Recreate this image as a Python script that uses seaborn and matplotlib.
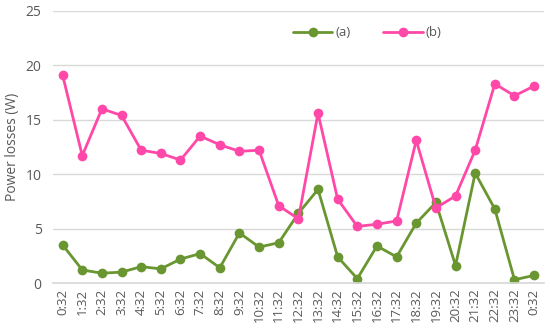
import numpy as np
import pandas as pd
import matplotlib
matplotlib.use("Agg")
import matplotlib.pyplot as plt
import seaborn as sns

times = ["0:32", "1:32", "2:32", "3:32", "4:32", "5:32", "6:32", "7:32", "8:32",
         "9:32", "10:32", "11:32", "12:32", "13:32", "14:32", "15:32", "16:32",
         "17:32", "18:32", "19:32", "20:32", "21:32", "22:32", "23:32", "0:32"]
series_a = [3.5, 1.2, 0.9, 1.0, 1.5, 1.3, 2.2, 2.7, 1.4, 4.6, 3.3, 3.7, 6.4,
            8.6, 2.4, 0.4, 3.4, 2.4, 5.5, 7.4, 1.6, 10.1, 6.8, 0.3, 0.7]
series_b = [19.1, 11.7, 16.0, 15.4, 12.2, 11.9, 11.3, 13.5, 12.7, 12.1, 12.2,
            7.1, 5.9, 15.6, 7.7, 5.2, 5.4, 5.7, 13.1, 6.9, 8.0, 12.2, 18.3,
            17.2, 18.1]
labels = ["(a)", "(b)"]
colors = ["#6a9631", "#ff48a8"]

sns.set_theme(style="white")
plt.rcParams["font.family"] = ["Open Sans", "DejaVu Sans"]

idx = np.arange(len(times))
df = pd.DataFrame({
    "x": np.concatenate([idx, idx]),
    "y": series_a + series_b,
    "s": [labels[0]] * len(idx) + [labels[1]] * len(idx),
})

fig = plt.figure(figsize=(5.5, 3.31), dpi=100)
ax = fig.add_axes([0.096, 0.145, 0.893, 0.822])
sns.lineplot(data=df, x="x", y="y", hue="s", palette=colors, marker="o",
             markersize=7, markeredgewidth=0, linewidth=2, ax=ax, legend=True)

ax.set_xlim(-0.5, len(times) - 0.5)
ax.set_ylim(0, 25)
ax.set_yticks([0, 5, 10, 15, 20, 25])
ax.set_xticks(idx)
ax.set_xticklabels(times, rotation=90)
ax.tick_params(axis="y", colors="#595959", labelsize=10, length=0, pad=8)
ax.tick_params(axis="x", colors="#595959", labelsize=9.5, length=0, pad=4)
ax.yaxis.grid(True, color="#d9d9d9", linewidth=1)
ax.set_axisbelow(True)
for s in ["top", "right", "left"]:
    ax.spines[s].set_visible(False)
ax.spines["bottom"].set_color("#d9d9d9")
ax.set_xlabel("")
ax.set_ylabel("Power losses (W)", color="#595959", fontsize=10)
leg = ax.legend(loc="center", bbox_to_anchor=(0.64, 0.92), ncol=2, frameon=False,
                fontsize=9.5, handlelength=3, columnspacing=2.5, handletextpad=0.2)
for t in leg.get_texts():
    t.set_color("#595959")

fig.savefig("out.png", dpi=100)
